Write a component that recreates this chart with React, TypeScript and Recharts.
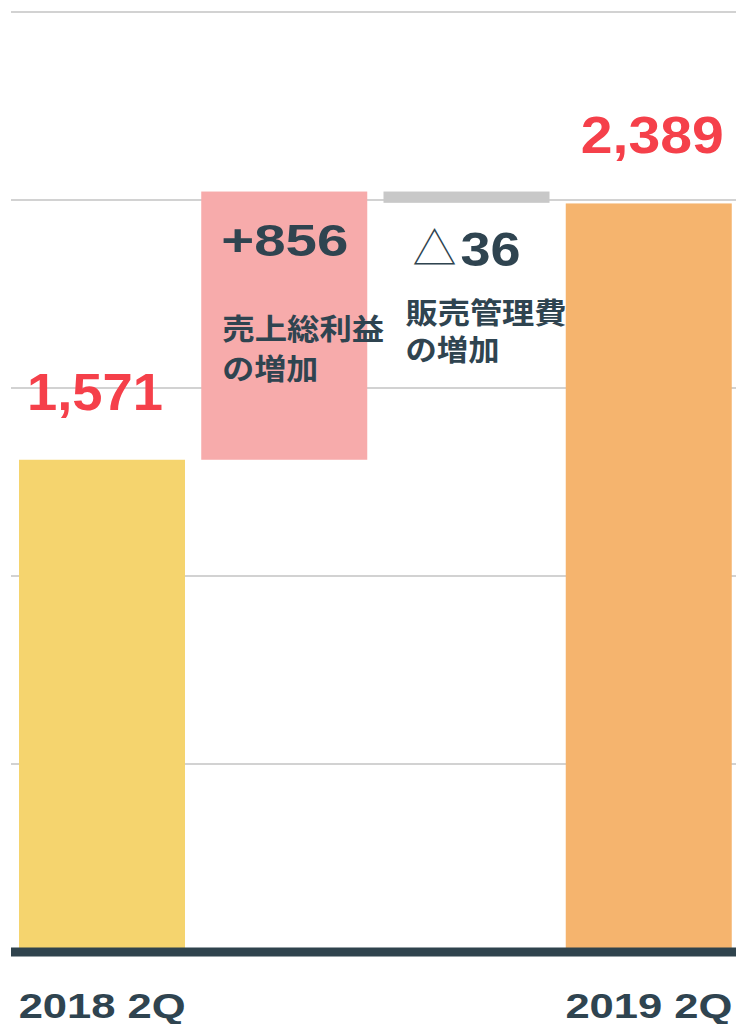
import React from 'react';
import { BarChart, Bar, XAxis, YAxis, CartesianGrid } from 'recharts';

const categories = ['2018 2Q', '売上総利益の増加', '販売管理費の増加', '2019 2Q'];
const tickLabels = ['2018 2Q', '', '', '2019 2Q'];
const startValue = 1571;
const grossProfitIncrease = 856;
const sgaIncrease = 36;
const endValue = 2389;
const deltas = [startValue, grossProfitIncrease, sgaIncrease, endValue];
const bases = [0, startValue, startValue + grossProfitIncrease - sgaIncrease, 0];
const valueLabels = ['1,571', '+856', '△36', '2,389'];
const noteLines = [[], ['売上総利益', 'の増加'], ['販売管理費', 'の増加'], []];
const barColors = ['#f5d46e', '#f7abab', '#c8c8c8', '#f5b46e'];
const yTicks = [0, 600, 1200, 1800, 2400, 3000];

const data = categories.map((name, i) => ({
  name,
  base: bases[i],
  delta: deltas[i],
}));

const DARK = '#2f4450';
const RED = '#f5404a';
const LATIN = '"Liberation Sans", Arial, sans-serif';
const CJK = '"Noto Sans CJK JP", "Noto Sans", sans-serif';

const BarShape = (props: any) => {
  const { x, y, width, height, index } = props;
  const fill = barColors[index];
  const texts: React.ReactNode[] = [];
  if (index === 0 || index === 3) {
    const dx = index === 0 ? 8 : 15;
    texts.push(
      <text key="v" x={x + dx} y={y - 50} fill={RED} fontFamily={LATIN} fontWeight="bold"
        fontSize={52} textLength={index === 0 ? 136 : 143} lengthAdjust="spacingAndGlyphs">
        {valueLabels[index]}
      </text>
    );
  } else if (index === 1) {
    texts.push(
      <text key="v" x={x + 20} y={y + 64} fill={DARK} fontFamily={LATIN} fontWeight="bold"
        fontSize={45} textLength={127} lengthAdjust="spacingAndGlyphs">
        {valueLabels[index]}
      </text>
    );
    noteLines[index].forEach((line, li) => {
      texts.push(
        <text key={'n' + li} x={x + 21} y={y + 148 + li * 40} fill={DARK} fontFamily={CJK}
          fontWeight="bold" fontSize={29} textLength={li === 0 ? 162 : 96} lengthAdjust="spacingAndGlyphs">
          {line}
        </text>
      );
    });
  } else if (index === 2) {
    const label = valueLabels[index];
    texts.push(
      <text key="t" x={x + 29} y={y + 73} fill={DARK} fontFamily={CJK} fontWeight={300} fontSize={44}>
        {label.slice(0, 1)}
      </text>
    );
    texts.push(
      <text key="v" x={x + 77} y={y + 74} fill={DARK} fontFamily={LATIN} fontWeight="bold"
        fontSize={48} textLength={60} lengthAdjust="spacingAndGlyphs">
        {label.slice(1)}
      </text>
    );
    noteLines[index].forEach((line, li) => {
      texts.push(
        <text key={'n' + li} x={x + 22} y={y + 132 + li * 37} fill={DARK} fontFamily={CJK}
          fontWeight="bold" fontSize={29} textLength={li === 0 ? 161 : 94} lengthAdjust="spacingAndGlyphs">
          {line}
        </text>
      );
    });
  }
  return (
    <g>
      <rect x={x} y={y} width={width} height={height} fill={fill} />
      {texts}
    </g>
  );
};

const XTick = (props: any) => {
  const { x, y, index } = props;
  const label = tickLabels[index];
  if (!label) return null;
  return (
    <text x={x} y={y + 66} textAnchor="middle" fill={DARK} fontFamily={LATIN} fontWeight="bold"
      fontSize={35} textLength={167} lengthAdjust="spacingAndGlyphs">
      {label}
    </text>
  );
};

export default function App() {
  return (
    <div style={{ position: 'fixed', left: 0, top: 0, width: 736, height: 1024, background: '#ffffff' }}>
      <BarChart width={736} height={1024} data={data} margin={{ top: 12, right: -4, bottom: 0, left: 11 }} barSize={166}>
        <CartesianGrid horizontal vertical={false} stroke="#d2d2d2" strokeWidth={2} />
        <YAxis hide domain={[0, 3000]} ticks={yTicks} />
        <Bar dataKey="base" stackId="a" fill="transparent" isAnimationActive={false} />
        <Bar dataKey="delta" stackId="a" isAnimationActive={false} shape={<BarShape />} />
        <XAxis dataKey="name" height={72} interval={0} tickLine={false} tickSize={0} tickMargin={0}
          axisLine={{ stroke: '#2f434d', strokeWidth: 9 }} tick={<XTick />} />
      </BarChart>
    </div>
  );
}
